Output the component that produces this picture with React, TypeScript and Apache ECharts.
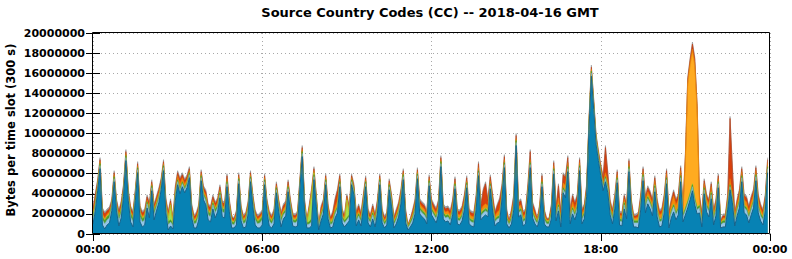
import React, { useEffect, useRef } from "react";
import * as echarts from "echarts";

// 288 five-minute slots (300 s). Stack total (top edge) in millions of bytes.
const totalsM: number[] = [
  2.7,4.1,5.5,7.6,2.6,2.2,2.5,2.7,3.5,6.3,3.5,2.4,3.3,5.0,8.4,4.5,2.8,2.3,4.5,7.2,2.8,2.3,2.5,3.9,
  3.2,5.4,3.0,3.8,4.6,5.6,7.4,3.6,2.3,3.5,1.6,4.8,6.3,5.6,6.1,5.5,5.9,6.7,3.0,1.9,2.2,3.0,6.4,4.8,
  4.4,3.0,2.8,3.9,3.2,3.6,4.9,3.3,3.2,6.0,3.5,1.9,1.6,2.4,6.1,2.8,1.9,2.2,3.3,6.3,4.0,2.4,1.9,2.1,
  2.4,6.0,3.5,2.3,1.9,2.5,5.2,3.5,2.2,3.0,3.3,5.4,3.5,2.1,2.0,2.3,5.5,8.8,3.5,1.5,3.0,4.6,6.7,4.0,
  1.0,2.8,3.5,6.0,3.0,1.7,2.3,3.6,4.5,6.0,2.5,2.0,4.0,2.8,6.0,5.0,2.3,3.0,2.2,4.0,5.8,2.5,2.0,3.0,
  2.0,3.5,6.0,2.5,1.8,2.2,5.5,4.0,1.8,2.5,3.2,4.5,6.5,2.5,1.0,1.6,2.5,3.5,6.6,3.5,3.2,3.0,2.3,5.9,
  3.5,3.0,2.6,3.5,7.8,3.0,2.7,2.8,2.4,3.5,5.7,2.5,2.4,2.8,4.0,5.8,2.5,2.3,2.2,4.0,7.2,3.0,4.5,5.2,
  3.5,5.9,4.0,2.3,3.0,3.6,5.0,7.9,2.5,1.4,2.5,4.0,10.0,3.3,3.5,2.3,2.5,5.0,8.4,3.2,2.5,1.6,3.0,6.0,
  2.5,1.6,1.6,3.0,7.3,2.8,5.0,2.3,6.1,5.8,7.8,2.5,4.0,3.2,4.0,7.6,2.5,3.0,5.0,11.5,16.8,13.5,10.0,8.4,
  7.0,5.8,8.8,6.2,3.4,2.5,4.0,6.4,2.3,2.2,4.0,3.0,7.5,3.5,2.0,2.0,2.2,4.0,6.7,3.8,4.8,4.3,3.5,5.8,
  3.5,2.4,2.6,4.0,6.5,2.3,3.5,4.4,3.5,4.0,6.8,3.0,8.0,15.6,17.5,19.1,17.6,13.0,4.0,2.2,5.5,4.0,3.5,5.2,
  2.5,3.5,6.0,1.4,2.0,2.0,4.0,11.7,6.8,2.2,3.5,4.5,6.7,4.0,3.8,2.8,3.8,4.5,6.8,4.0,3.0,2.5,4.0,7.6,
];

// Upper layers, in units of 100 000 bytes.
const lightBlue: number[] = [
  4,4,3,3,5,5,5,5,4,3,4,5,5,4,3,4,5,5,4,3,5,5,5,4,
  5,3,5,4,4,3,3,4,5,4,3,4,3,3,3,3,3,3,4,4,5,5,3,4,
  4,5,5,4,5,4,3,5,5,3,4,4,3,5,3,5,4,5,4,3,4,5,4,5,
  5,3,4,5,4,5,3,4,5,4,4,3,4,4,4,5,3,3,4,3,4,4,3,4,
  2,4,4,3,4,3,4,4,4,3,4,4,4,4,3,3,4,4,4,4,3,4,4,4,
  4,4,3,4,3,4,3,4,3,4,4,4,3,4,2,3,4,4,3,4,4,4,4,3,
  4,4,4,4,3,4,4,4,4,4,3,4,4,4,4,3,4,4,4,4,3,4,4,4,
  4,3,4,4,4,4,3,3,4,3,4,4,3,4,4,4,4,3,3,4,4,3,4,3,
  4,3,3,4,3,4,4,4,3,4,3,4,4,4,4,3,4,4,3,3,3,3,3,3,
  3,3,3,4,4,4,4,3,4,4,4,4,3,4,4,4,5,5,4,5,5,5,5,4,
  5,5,5,5,4,5,5,5,5,5,4,5,4,4,4,4,4,4,5,4,4,5,5,4,
  5,5,4,3,4,4,4,3,3,4,5,5,4,5,5,5,5,5,4,5,5,5,5,4,
];

const green: number[] = [
  3,3,2,2,3,3,3,3,2,2,2,3,3,2,2,2,3,3,2,2,3,3,3,2,
  3,2,3,2,2,2,2,2,3,2,2,2,2,2,2,2,2,2,2,2,3,3,2,2,
  2,3,3,2,3,2,2,3,3,2,2,2,2,3,2,3,2,3,2,2,2,3,2,3,
  3,2,2,3,2,3,2,2,3,2,2,2,2,2,2,3,2,2,2,2,2,3,2,2,
  1,2,2,2,2,2,2,2,2,2,2,2,2,2,2,2,2,2,2,2,2,2,2,2,
  2,2,2,2,2,2,2,2,2,2,2,2,2,2,1,2,2,2,2,2,2,2,2,2,
  2,2,2,2,2,2,2,2,2,2,2,2,2,2,2,2,2,2,2,2,2,2,2,2,
  2,2,2,2,2,2,2,2,2,2,2,2,2,2,2,2,2,2,2,2,2,2,2,2,
  2,2,2,2,2,2,2,2,2,2,2,2,2,2,2,2,2,2,2,2,2,2,2,2,
  2,2,2,2,2,2,2,2,2,2,2,2,2,2,2,2,2,2,2,2,2,2,2,2,
  2,2,2,2,2,2,2,2,2,2,2,2,2,2,2,2,2,2,2,2,2,2,2,2,
  2,2,2,2,2,2,2,2,2,2,2,2,2,2,2,2,2,2,2,2,2,2,2,2,
];

const lightGreen: number[] = [
  1,1,0,0,1,1,1,1,0,0,0,1,1,0,0,0,1,1,0,0,1,1,1,0,
  1,0,1,1,1,0,0,1,4,15,2,1,0,0,0,0,0,0,1,1,1,1,0,0,
  1,1,1,1,1,1,1,1,1,0,1,1,1,1,0,1,1,1,1,0,1,1,1,1,
  1,0,1,1,1,1,0,1,1,1,1,0,1,1,1,1,0,0,1,1,12,25,2,1,
  0,1,1,0,1,1,1,1,1,0,1,1,18,3,0,0,1,1,1,1,0,1,1,1,
  1,1,0,1,1,1,0,1,1,1,1,1,0,1,0,1,1,1,0,1,1,1,1,0,
  1,1,1,1,0,1,1,1,1,1,0,1,1,1,1,0,1,1,1,1,0,1,1,1,
  1,0,1,1,1,1,0,0,1,0,1,1,0,1,1,1,1,0,0,1,1,1,1,0,
  1,1,1,1,0,1,1,1,0,1,0,1,1,1,1,0,1,1,0,0,0,0,0,0,
  0,0,0,1,1,1,1,0,1,1,1,1,0,1,1,1,1,1,0,1,1,1,1,1,
  1,1,1,1,0,1,1,1,1,1,0,1,1,1,1,1,1,1,1,1,0,1,1,1,
  1,1,0,0,1,1,1,0,0,1,1,1,0,1,1,1,1,1,0,1,1,1,1,0,
];

const gold: number[] = [
  0,0,0,0,0,0,0,0,0,0,0,0,0,0,0,0,0,0,0,0,0,0,0,0,
  0,0,0,0,0,0,0,0,0,0,0,0,0,0,0,0,0,0,0,0,0,0,0,0,
  0,0,0,0,0,0,0,0,0,0,0,0,0,0,0,0,0,0,0,0,0,0,0,0,
  0,0,0,0,0,0,0,0,0,0,0,0,0,0,0,0,0,0,0,0,0,0,0,0,
  0,0,0,0,0,0,0,0,0,0,0,0,0,0,0,0,0,0,0,0,0,0,0,0,
  0,0,0,0,0,0,0,0,0,0,0,0,0,0,0,0,0,0,0,0,0,0,0,0,
  0,0,0,0,0,0,0,0,0,0,0,0,0,0,0,0,0,0,0,0,0,0,0,0,
  0,0,0,0,0,0,0,0,0,0,0,0,0,0,0,0,0,0,0,0,0,0,0,0,
  0,0,0,0,0,0,0,0,0,0,0,0,0,0,0,0,0,0,0,0,0,0,0,0,
  0,0,0,0,0,0,0,0,0,0,0,0,0,0,0,0,0,0,0,0,0,0,0,0,
  0,0,0,0,0,0,0,0,0,0,0,0,45,115,125,130,130,95,0,0,0,0,0,0,
  0,0,0,0,0,0,0,0,0,0,0,0,0,0,0,0,0,0,0,0,0,0,0,0,
];

const orange: number[] = [
  2,2,2,2,2,2,2,2,2,2,2,2,2,2,2,2,2,2,2,2,2,2,2,2,
  2,2,2,3,3,3,2,3,2,2,1,3,4,5,4,4,3,2,2,2,2,2,2,3,
  3,2,2,2,2,2,2,2,2,3,2,2,1,2,2,2,2,2,2,2,2,2,2,2,
  2,2,2,2,2,2,2,2,2,3,3,2,2,2,2,2,2,2,2,1,2,2,2,2,
  1,3,3,2,3,2,3,4,5,3,2,2,2,2,2,2,3,3,2,3,2,2,2,3,
  2,3,2,2,2,2,2,2,2,3,3,3,2,2,1,1,2,3,2,3,3,3,2,2,
  4,3,3,3,2,3,3,3,3,3,2,3,3,3,3,2,3,3,3,3,3,3,4,4,
  4,3,4,3,4,5,4,3,3,1,3,3,2,3,3,3,3,3,3,3,3,1,3,3,
  3,1,1,3,3,3,6,3,5,5,4,3,5,4,4,3,3,3,3,2,2,2,2,2,
  2,3,4,4,3,3,3,3,3,3,3,3,3,3,2,2,3,3,3,4,4,4,4,4,
  5,4,5,6,4,4,6,8,7,7,5,5,4,3,4,4,4,3,5,3,4,5,5,5,
  3,4,3,1,2,2,4,6,5,3,4,5,4,5,5,4,5,5,4,5,4,3,4,4,
];

const red: number[] = [
  5,6,3,2,4,4,3,3,2,2,2,3,4,3,2,2,3,3,2,2,3,3,3,3,
  3,2,3,3,3,2,2,3,3,2,2,3,3,4,3,3,3,2,3,2,3,3,2,3,
  3,3,3,3,3,3,3,3,3,3,2,2,2,2,2,2,2,2,2,2,2,2,2,2,
  2,2,2,2,2,2,2,2,2,3,3,3,2,2,2,2,2,2,2,1,2,2,2,2,
  1,3,3,2,3,2,4,7,10,3,3,2,2,2,2,2,3,4,3,3,2,3,2,3,
  2,3,2,3,2,2,2,2,2,3,3,3,2,3,1,1,3,3,2,3,3,3,2,2,
  3,3,3,3,2,3,3,3,3,4,3,3,3,3,4,3,3,3,3,4,4,4,15,20,
  5,4,4,3,6,10,4,3,3,1,3,4,3,4,4,3,3,4,8,4,3,1,3,3,
  3,1,1,3,3,3,12,4,8,8,5,3,6,5,5,3,3,3,3,2,2,2,2,2,
  3,5,25,8,3,3,3,3,2,2,3,3,3,3,2,2,3,3,3,3,4,4,3,3,
  3,3,3,3,3,3,3,4,4,4,3,3,3,3,3,5,4,3,4,3,3,3,3,3,
  3,3,3,1,2,2,3,60,25,2,3,4,3,4,4,3,4,4,3,4,3,3,3,3,
];

const gray: number[] = [
  2,2,2,2,2,2,2,2,2,2,2,2,2,2,2,2,2,2,2,2,2,2,2,2,
  2,2,2,2,2,2,2,2,2,2,1,2,2,2,2,2,2,2,2,2,2,2,2,2,
  2,2,2,2,2,2,2,2,2,2,2,2,1,2,2,2,2,2,2,2,2,2,2,2,
  2,2,2,2,2,2,2,2,2,2,2,2,2,2,2,2,2,2,2,1,2,2,2,2,
  1,2,2,2,2,1,2,2,2,2,2,2,2,2,2,2,2,2,2,2,2,2,2,2,
  2,2,2,2,2,2,2,2,2,2,2,2,2,2,1,1,2,2,2,2,2,2,2,2,
  2,2,2,2,2,2,2,2,2,2,2,2,2,2,2,2,2,2,2,2,2,2,2,2,
  2,2,2,2,2,2,2,2,2,1,2,2,2,2,2,2,2,2,2,2,2,1,2,2,
  2,1,1,2,2,2,2,2,2,2,2,2,2,2,2,2,2,2,2,2,2,2,2,2,
  2,2,2,2,2,2,2,2,2,2,2,2,2,2,2,2,2,2,2,2,2,2,2,2,
  2,2,2,2,2,2,2,2,2,2,2,2,2,2,2,2,2,2,2,2,2,2,2,2,
  2,2,2,1,2,2,2,2,2,2,2,2,2,2,2,2,2,2,2,2,2,2,2,2,
];

const xTickMinutes = [0, 360, 720, 1080, 1440];
const yTicks = [0, 2000000, 4000000, 6000000, 8000000, 10000000, 12000000, 14000000, 16000000, 18000000, 20000000];

const TITLE = "Source Country Codes (CC) -- 2018-04-16 GMT";
const Y_NAME = "Bytes per time slot (300 s)";
const FONT = "DejaVu Sans";

export default function App() {
  const ref = useRef<HTMLDivElement>(null);
  useEffect(() => {
    document.body.style.margin = "0";
    const chart = echarts.init(ref.current!, null, { renderer: "svg" });
    const UNIT = 100000;
    const upper = [
      { name: "lightblue", vals: lightBlue, color: "#94c6e6", line: "#85b9da" },
      { name: "green", vals: green, color: "#4f9d2d", line: "#458d27" },
      { name: "lightgreen", vals: lightGreen, color: "#a5e04a", line: "#96d03c" },
      { name: "gold", vals: gold, color: "#ffab20", line: "#f09c14" },
      { name: "orange", vals: orange, color: "#f58a0c", line: "#e67e08" },
      { name: "red", vals: red, color: "#d9400c", line: "#c63608" },
      { name: "gray", vals: gray, color: "#a0a0a0", line: "#8c8c8c" },
    ];
    const minutes = totalsM.map((_, i) => i * 5);
    // Blue base layer = read stack top minus the upper layers.
    const blue = totalsM.map((t, i) => {
      const others = upper.reduce((s, l) => s + (l.vals[i] ?? 0) * UNIT, 0);
      return Math.max(t * 1e6 - others, 30000);
    });
    // Cumulative stack tops, bottom layer first.
    const layers = [{ name: "blue", vals: blue, color: "#0782b4", line: "#17638a" }].concat(
      upper.map((l) => ({ ...l, vals: l.vals.map((v) => v * UNIT) }))
    );
    const cum: number[][] = [];
    layers.forEach((l, k) => {
      cum.push(l.vals.map((v, i) => v + (k > 0 ? cum[k - 1][i] : 0)));
    });
    // Draw from the top layer down, each filled to zero, so lower layers cover upper ones.
    const series: any[] = [];
    for (let k = layers.length - 1; k >= 0; k--) {
      const l = layers[k];
      series.push({
        name: l.name,
        type: "line",
        symbol: "none",
        showSymbol: false,
        silent: true,
        z: 2,
        data: cum[k].map((v, i) => [minutes[i], v]),
        lineStyle: { width: k === 0 ? 1 : 0.6, color: l.line },
        areaStyle: { color: l.color, opacity: 1 },
      });
    }

    const fmtTime = (v: number) => {
      const h = Math.floor(v / 60) % 24;
      return (h < 10 ? "0" : "") + h + ":00";
    };
    const grid = { left: 93, top: 33, width: 677, height: 201 };
    const dotted = { show: true, lineStyle: { color: "#a8a8a8", type: [1, 3], width: 1 } };
    const tickStyle = { show: true, inside: true, length: 7, lineStyle: { color: "#000", width: 1 } };
    const labelStyle = { fontFamily: FONT, fontWeight: "bold", fontSize: 11, color: "#000" };

    chart.setOption({
      animation: false,
      grid,
      xAxis: [
        {
          type: "value", min: xTickMinutes[0], max: xTickMinutes[xTickMinutes.length - 1], interval: 360,
          position: "bottom", axisLine: { show: false }, axisTick: { show: false },
          axisLabel: { ...labelStyle, margin: 10, formatter: fmtTime },
          splitLine: dotted,
        },
        {
          type: "value", min: 0, max: 1440, interval: 360, position: "top",
          axisLine: { show: false }, axisTick: tickStyle, axisLabel: { show: false }, splitLine: { show: false },
        },
      ],
      yAxis: [
        {
          type: "value", min: yTicks[0], max: yTicks[yTicks.length - 1], interval: 2000000, position: "left",
          axisLine: { show: false }, axisTick: tickStyle,
          axisLabel: { ...labelStyle, margin: 8, formatter: (v: number) => String(v) },
          splitLine: dotted,
        },
        {
          type: "value", min: 0, max: 20000000, interval: 2000000, position: "right",
          axisLine: { show: false }, axisTick: tickStyle, axisLabel: { show: false }, splitLine: { show: false },
        },
      ],
      series,
      graphic: [
        {
          type: "rect", z: 100, silent: true,
          shape: { x: 92.5, y: 32.5, width: 677, height: 201 },
          style: { fill: "none", stroke: "#000", lineWidth: 1 },
        },
        {
          type: "text", z: 100, x: 430, y: 12,
          style: { text: TITLE, textAlign: "center", textVerticalAlign: "middle", font: `bold 13px "${FONT}"`, fill: "#000" },
        },
        {
          type: "text", z: 100, x: 11, y: 130, rotation: Math.PI / 2,
          style: { text: Y_NAME, textAlign: "center", textVerticalAlign: "middle", font: `bold 11.5px "${FONT}"`, fill: "#000" },
        },
      ],
    });
    return () => chart.dispose();
  }, []);
  return <div ref={ref} style={{ width: 792, height: 259 }} />;
}
